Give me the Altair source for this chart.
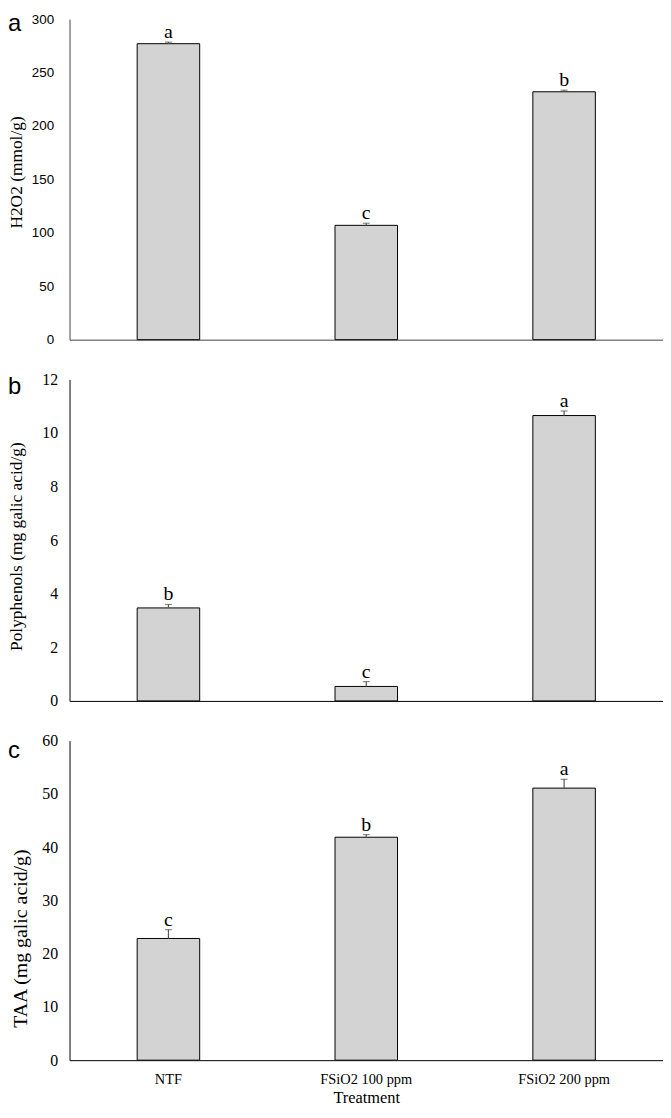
import altair as alt
import pandas as pd

TREATMENTS = ["NTF", "FSiO2 100 ppm", "FSiO2 200 ppm"]

H2O2 = [277.0, 107.0, 232.0]
H2O2_ERR = [1.5, 2.0, 1.5]
H2O2_LET = ["a", "c", "b"]

POLY = [3.47, 0.54, 10.65]
POLY_ERR = [0.13, 0.18, 0.17]
POLY_LET = ["b", "c", "a"]

TAA = [22.85, 41.86, 51.08]
TAA_ERR = [1.65, 0.5, 1.65]
TAA_LET = ["c", "b", "a"]

PANEL_LABELS = ["a", "b", "c"]
Y_TITLES = ["H2O2 (mmol/g)", "Polyphenols (mg galic acid/g)", "TAA (mg galic acid/g)"]
Y_TICKS = [[0, 50, 100, 150, 200, 250, 300],
           [0, 2, 4, 6, 8, 10, 12],
           [0, 10, 20, 30, 40, 50, 60]]

W = 598
SERIF = "Liberation Serif"
SANS = "Liberation Sans"


def panel(vals, errs, lets, plabel, ytitle, ticks, height, label_font, label_size,
          label_pad, title_x, title_y, title_size, axis_color, show_x, plabel_y):
    df = pd.DataFrame({
        "Treatment": TREATMENTS,
        "v": vals,
        "up": [v + e for v, e in zip(vals, errs)],
        "let": lets,
    })
    xscale = alt.Scale(domain=TREATMENTS, paddingInner=0.684, paddingOuter=0.342)
    if show_x:
        xaxis = alt.Axis(title="Treatment", labelAngle=0, ticks=False, tickSize=0,
                         labelPadding=13, labelFont=SERIF, labelFontSize=14.5,
                         labelColor="#000", titleFont=SERIF, titleFontSize=16.5,
                         titleFontWeight="normal", titleColor="#000", titlePadding=3,
                         domainColor=axis_color, domainWidth=1, grid=False)
    else:
        xaxis = alt.Axis(title=None, labels=False, ticks=False, tickSize=0,
                         domainColor=axis_color, domainWidth=1, grid=False)
    yaxis = alt.Axis(values=ticks, ticks=False, tickSize=0, grid=False,
                     labelFont=label_font, labelFontSize=label_size, labelColor="#000",
                     labelPadding=label_pad, title=ytitle, titleFont=SERIF,
                     titleFontSize=title_size, titleFontWeight="normal", titleColor="#000",
                     titleX=title_x, titleY=title_y, titleAngle=270, titleAlign="center",
                     titleBaseline="middle", domainColor=axis_color, domainWidth=1)
    xenc = alt.X("Treatment:N", sort=TREATMENTS, scale=xscale, axis=xaxis)
    base = alt.Chart(df)
    bars = base.mark_bar(fill="#d3d3d3", stroke="#000", strokeWidth=1).encode(
        x=xenc,
        y=alt.Y("v:Q", scale=alt.Scale(domain=[ticks[0], ticks[-1]], nice=False), axis=yaxis),
    )
    rule = base.mark_rule(color="#555", strokeWidth=1.2).encode(
        x=alt.X("Treatment:N", sort=TREATMENTS),
        y=alt.Y("v:Q"),
        y2="up:Q",
    )
    cap = base.mark_tick(color="#555", thickness=1.2, size=7).encode(
        x=alt.X("Treatment:N", sort=TREATMENTS),
        y=alt.Y("up:Q"),
    )
    letters = base.mark_text(font=SERIF, fontSize=20, baseline="alphabetic", dy=-4,
                             color="#000").encode(
        x=alt.X("Treatment:N", sort=TREATMENTS),
        y=alt.Y("up:Q"),
        text="let:N",
    )
    plab = alt.Chart(pd.DataFrame({"t": [plabel]})).mark_text(
        font=SANS, fontSize=24, align="left", baseline="alphabetic", color="#000"
    ).encode(x=alt.value(-62), y=alt.value(plabel_y), text="t:N")
    return alt.layer(bars, rule, cap, letters, plab).properties(width=W, height=height)


pa = panel(H2O2, H2O2_ERR, H2O2_LET, PANEL_LABELS[0], Y_TITLES[0], Y_TICKS[0], 323,
           SANS, 13.5, 16, -53, 154, 17.5, "#444", False, 12)
pb = panel(POLY, POLY_ERR, POLY_LET, PANEL_LABELS[1], Y_TITLES[1], Y_TICKS[1], 324,
           SERIF, 16, 12, -53, 168, 17.5, "#000", False, 15)
pc = panel(TAA, TAA_ERR, TAA_LET, PANEL_LABELS[2], Y_TITLES[2], Y_TICKS[2], 322,
           SERIF, 16, 12, -49, 199, 20, "#000", True, 18)

chart = alt.vconcat(pa, pb, pc, spacing=40, bounds="flush").properties(
    padding=0,
    background="#ffffff",
).configure_view(stroke=None)

chart.save("out.html", embed_options={"renderer": "svg", "actions": False})
